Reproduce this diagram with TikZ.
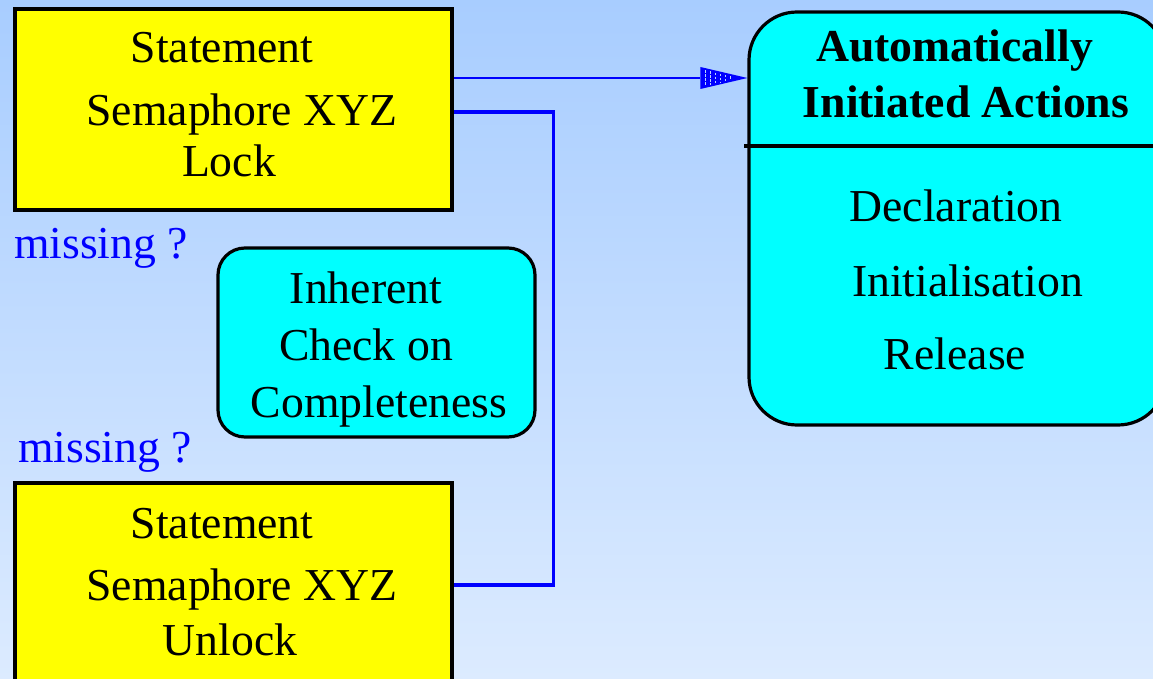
\documentclass[tikz,border=0pt]{standalone}
\usepackage{fontspec}
\setmainfont{Liberation Serif}
\definecolor{bgtop}{RGB}{168,205,255}
\definecolor{bgbot}{RGB}{220,235,255}
\definecolor{stripe}{RGB}{185,212,255}
\definecolor{pureblue}{RGB}{0,0,255}
\definecolor{boxyellow}{RGB}{255,255,0}
\definecolor{boxcyan}{RGB}{0,255,255}
\begin{document}
\begin{tikzpicture}[x=1pt,y=-1pt,
  txt/.style={font=\fontsize{45.7}{50}\selectfont, inner sep=0pt, anchor=base},
  btxt/.style={txt, font=\fontsize{45.7}{50}\selectfont\bfseries},
  mtxt/.style={txt, text=pureblue},
  ybox/.style={draw=black, line width=3.2pt, fill=boxyellow, inner sep=0pt},
  cbox/.style={draw=black, line width=3.2pt, fill=boxcyan, rounded corners=#1, inner sep=0pt},
  wire/.style={draw=pureblue, line width=3.2pt},
  thinwire/.style={draw=pureblue, line width=2.6pt}]
\shade[top color=bgtop, bottom color=bgbot] (0,0) rectangle (1153,679);
\useasboundingbox (0,0) rectangle (1153,679);

% boxes
\node[ybox, minimum width=437pt, minimum height=201pt] (lock) at (233.5,109.5) {};
\node[ybox, minimum width=437pt, minimum height=234pt] (unlock) at (233.5,600) {};
\node[cbox=27pt, minimum width=317pt, minimum height=189pt] (check) at (376.5,342.5) {};
\node[cbox=48pt, minimum width=417pt, minimum height=413pt] (auto) at (957.5,218.5) {};
\draw[line width=3.2pt] ([xshift=-3pt]auto.west |- 0,146) coordinate (sepL) -- (auto.east |- 0,146) coordinate (sepR);

% texts
\node[txt] (l1) at (222,63) {Statement};
\node[txt] (l2) at (242,126) {Semaphore XYZ};
\node[txt] (l3) at (229,177) {Lock};
\node[txt] (u1) at (222,538) {Statement};
\node[txt] (u2) at (242,600) {Semaphore XYZ};
\node[txt] (u3) at (230,655) {Unlock};
\node[mtxt] (m1) at (101,258) {missing ?};
\node[mtxt] (m2) at (105,462) {missing ?};
\node[txt] (c1) at (366,303) {Inherent};
\node[txt] (c2) at (366,360) {Check on};
\node[txt] (c3) at (379,417) {Completeness};
\node[btxt] (a1t) at (954.5,62) {Automatically};
\node[btxt] (a2t) at (966,118) {Initiated Actions};
\node[txt] (d1) at (956,222) {Declaration};
\node[txt] (d2) at (967.5,296) {Initialisation};
\node[txt] (d3) at (955,369) {Release};

% connectors
\coordinate (a0) at ([yshift=31.5pt]lock.east);
\coordinate (a1) at (auto.west |- a0);
\draw[thinwire] (a0) -- ([xshift=-47pt]a1);
\fill[pureblue] (a1) -- ++(-47,-11) -- ++(0,22) -- cycle;
\foreach \d in {42,37,32,27,22,17} {
  \pgfmathsetmacro{\h}{11*\d/47-2}
  \draw[stripe, line width=1pt, dash pattern=on 2.5pt off 1.5pt]
    ([xshift=-\d pt, yshift=\h pt]a1) -- ([xshift=-\d pt, yshift=-\h pt]a1);
}
\draw[wire] ([yshift=-2.5pt]lock.east) -- ++(100,0) |- ([yshift=15pt]unlock.east);
\end{tikzpicture}
\end{document}
